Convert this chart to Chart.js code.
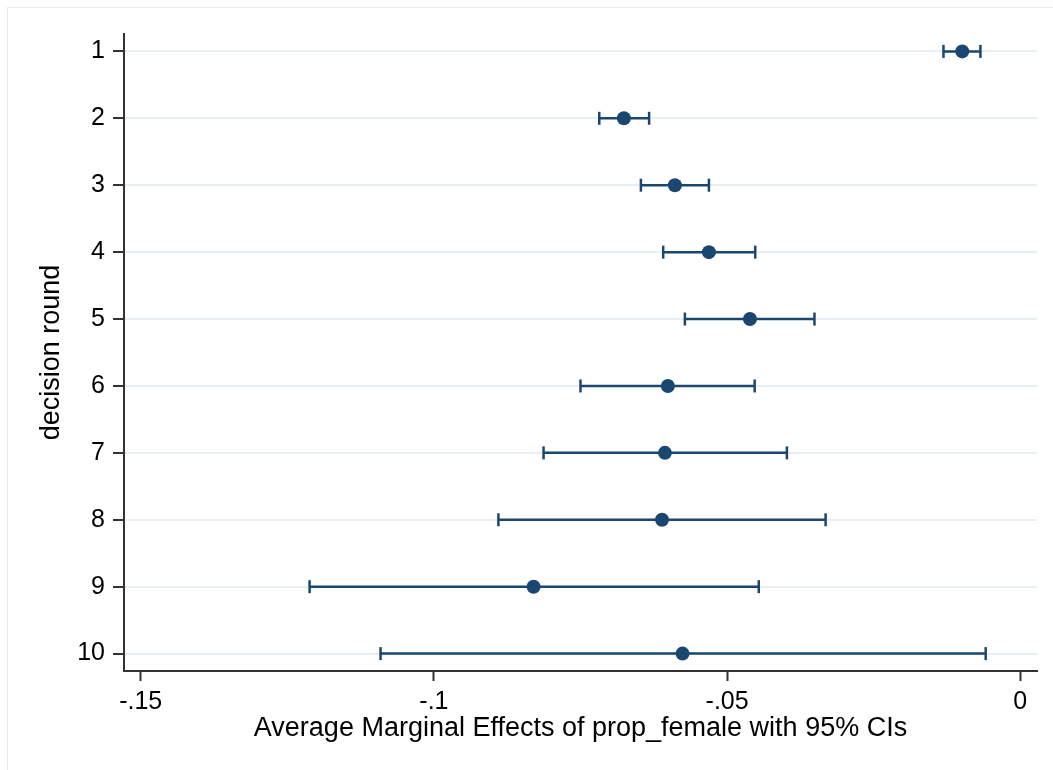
<!DOCTYPE html>
<html>
  <head>
    <title>Marginal effects</title>
    <script src="https://cdn.jsdelivr.net/npm/chart.js"></script>
    <style>
      body { margin: 0; background: #ffffff; }
      #wrap { position: relative; width: 1053px; height: 770px; }
      #frame {
        position: absolute; left: 7px; top: 7px; width: 1060px; height: 780px;
        border-left: 1px solid #ebebeb; border-top: 1px solid #ebebeb;
      }
    </style>
  </head>

  <body>
    <div id="wrap">
      <div id="frame"></div>
      <canvas id="grafico" width="1053" height="770"></canvas>
    </div>

    <script>
      // decision rounds, average marginal effects and 95% CI bounds
      var rounds = [1, 2, 3, 4, 5, 6, 7, 8, 9, 10];
      var estimates = [-0.0099, -0.0676, -0.0589, -0.0531, -0.0461, -0.0601, -0.0606, -0.0611, -0.0830, -0.0576];
      var ciLow = [-0.0131, -0.0718, -0.0647, -0.0609, -0.0572, -0.0750, -0.0813, -0.0890, -0.1212, -0.1091];
      var ciHigh = [-0.0068, -0.0633, -0.0531, -0.0452, -0.0351, -0.0453, -0.0398, -0.0332, -0.0446, -0.0059];
      var xTickValues = [-0.15, -0.1, -0.05, 0];
      var xTickLabels = ["-.15", "-.1", "-.05", "0"];

      var cor = "#1a476f";
      var fonte = "'Liberation Sans', Arial, Helvetica, sans-serif";

      var datasets = [
        {
          type: "scatter",
          label: "estimate",
          data: rounds.map((r, i) => ({ x: estimates[i], y: r })),
          pointRadius: 7,
          pointBackgroundColor: cor,
          pointBorderWidth: 0,
        },
      ];

      rounds.forEach((r, i) => {
        datasets.push({
          type: "line",
          label: "ci" + r,
          data: [
            { x: ciLow[i], y: r },
            { x: ciHigh[i], y: r },
          ],
          borderColor: cor,
          borderWidth: 2.5,
          pointStyle: "line",
          pointRotation: 90,
          pointRadius: 6.5,
          pointBorderColor: cor,
          pointBorderWidth: 2.5,
        });
      });

      var grafico = new Chart(document.getElementById("grafico").getContext("2d"), {
        data: { datasets: datasets },
        options: {
          responsive: false,
          animation: false,
          devicePixelRatio: 1,
          layout: { padding: { top: 34, right: 16, left: 0, bottom: 0 } },
          plugins: { legend: { display: false }, tooltip: { enabled: false } },
          scales: {
            x: {
              type: "linear",
              min: -0.15285,
              max: 0.00285,
              afterFit: (scale) => { scale.height = 99; },
              afterBuildTicks: (scale) => {
                scale.ticks = xTickValues.map((v) => ({ value: v }));
              },
              ticks: {
                callback: (v) => xTickLabels[xTickValues.indexOf(v)],
                font: { family: fonte, size: 25 },
                color: "#000",
                padding: 6,
                maxRotation: 0,
              },
              grid: {
                drawOnChartArea: false,
                tickLength: 10,
                tickColor: "#333",
                tickWidth: 2,
              },
              border: { color: "#333", width: 2 },
              title: {
                display: true,
                text: "Average Marginal Effects of prop_female with 95% CIs",
                font: { family: fonte, size: 27 },
                color: "#000",
                padding: { top: 0, bottom: 25 },
              },
            },
            y: {
              type: "linear",
              reverse: true,
              min: 0.74,
              max: 10.26,
              afterFit: (scale) => { scale.width = 124; },
              afterBuildTicks: (scale) => {
                scale.ticks = rounds.map((v) => ({ value: v }));
              },
              ticks: {
                font: { family: fonte, size: 25 },
                color: "#000",
                padding: 8,
              },
              grid: {
                color: "#e8eff3",
                lineWidth: 2,
                tickLength: 11,
                tickColor: "#333",
                tickWidth: 2,
              },
              border: { color: "#333", width: 2 },
              title: {
                display: true,
                text: "decision round",
                font: { family: fonte, size: 27 },
                color: "#000",
                padding: { top: 35, bottom: 0 },
              },
            },
          },
        },
      });
    </script>
  </body>
</html>
